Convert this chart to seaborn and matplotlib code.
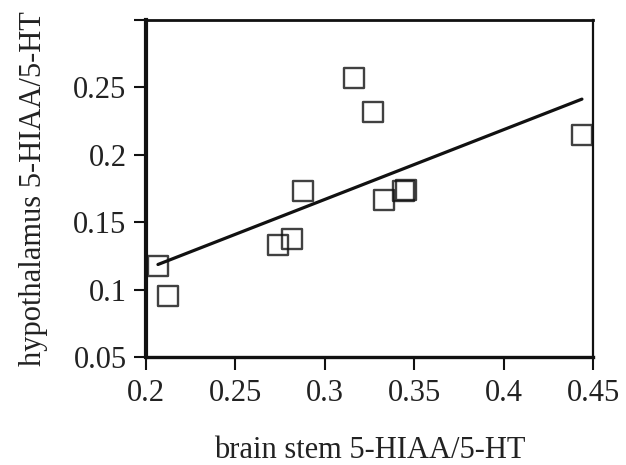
import matplotlib
matplotlib.use("Agg")
import matplotlib.pyplot as plt
import seaborn as sns
import pandas as pd

# Data
brain_stem = [0.2067, 0.2123, 0.2738, 0.2817, 0.2878, 0.3163, 0.3270, 0.3330, 0.3440, 0.3455, 0.4438]
hypothalamus = [0.1175, 0.0950, 0.1330, 0.1375, 0.1730, 0.2570, 0.2318, 0.1665, 0.1730, 0.1740, 0.2147]
xtick_values = [0.2, 0.25, 0.3, 0.35, 0.4, 0.45]
xtick_labels = ["0.2", "0.25", "0.3", "0.35", "0.4", "0.45"]
ytick_values = [0.05, 0.1, 0.15, 0.2, 0.25, 0.3]
ytick_labels = ["0.05", "0.1", "0.15", "0.2", "0.25", ""]
x_label = "brain stem 5-HIAA/5-HT"
y_label = "hypothalamus 5-HIAA/5-HT"

df = pd.DataFrame({"x": brain_stem, "y": hypothalamus})

sns.set_theme(style="white")
plt.rcParams["font.family"] = ["Liberation Serif", "DejaVu Serif"]

fig = plt.figure(figsize=(6.26, 4.65), dpi=100)
ax = fig.add_axes([0.2332, 0.2323, 0.9473 - 0.2332, 0.957 - 0.2323])

sns.regplot(
    data=df, x="x", y="y", ax=ax, ci=None, marker="s", truncate=True,
    scatter_kws=dict(s=210, facecolors="none", edgecolors="#111111", linewidths=1.7, zorder=3),
    line_kws=dict(color="#111111", linewidth=2.3, zorder=2),
)

ax.set_xlim(0.2, 0.45)
ax.set_ylim(0.05, 0.3)
ax.set_xticks(xtick_values)
ax.set_xticklabels(xtick_labels)
ax.set_yticks(ytick_values)
ax.set_yticklabels(ytick_labels)
ax.tick_params(axis="both", direction="out", length=9, width=1.5, color="#111111",
               labelsize=22, labelcolor="#222222")
ax.tick_params(axis="x", pad=7, bottom=True)
ax.tick_params(axis="y", pad=5, left=True)

for side, lw in {"left": 3.0, "bottom": 2.4, "top": 2.0, "right": 1.6}.items():
    ax.spines[side].set_visible(True)
    ax.spines[side].set_linewidth(lw)
    ax.spines[side].set_color("#111111")

ax.set_xlabel(x_label, fontsize=22, color="#222222", labelpad=20)
ax.set_ylabel(y_label, fontsize=22, color="#222222", labelpad=18)
ax.grid(False)

fig.savefig("out.png", dpi=100, facecolor="white")
